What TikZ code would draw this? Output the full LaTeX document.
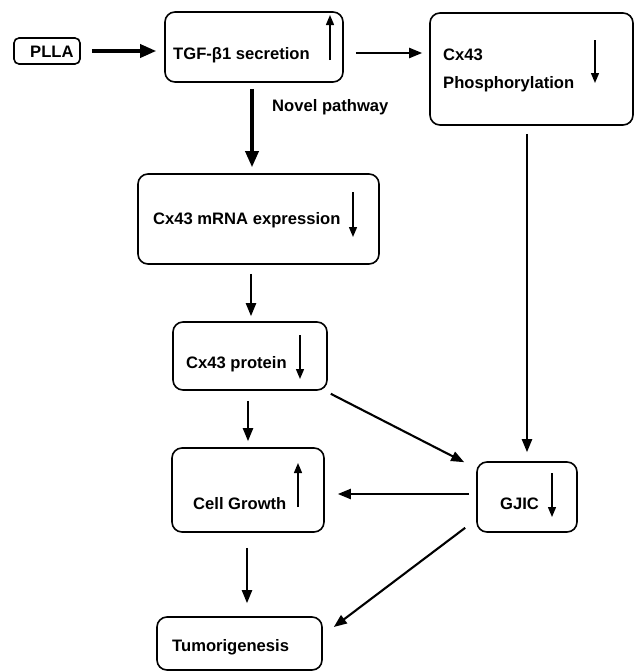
\documentclass[tikz,border=0pt]{standalone}
\usepackage{fontspec}
\setmainfont{Liberation Sans}
\usetikzlibrary{arrows.meta,calc}
\begin{document}
\begin{tikzpicture}[x=1pt,y=-1pt,
  box/.style={draw, line width=1.6pt, rounded corners=10pt, inner sep=0pt},
  lbl/.style={anchor=base west, inner sep=0pt, font=\fontsize{16.6}{19}\selectfont\bfseries},
  ind/.style={line width=1.4pt, -{Triangle[length=10pt,width=8pt]}},
  thk/.style={line width=3.4pt, -{Triangle[length=16pt,width=13pt]}},
  med/.style={line width=2.1pt, -{Triangle[length=13pt,width=10pt]}}]
\useasboundingbox (0,0) rectangle (638,672);
% boxes
\node[box, rounded corners=5pt, minimum width=66pt, minimum height=26pt] (plla) at (47,51) {};
\node[box, minimum width=178pt, minimum height=70pt] (tgf) at (254,47) {};
\node[box, minimum width=203pt, minimum height=112pt] (cxp) at (531.5,69) {};
\node[box, minimum width=241pt, minimum height=90pt] (mrna) at (258.5,219) {};
\node[box, minimum width=154pt, minimum height=68pt] (prot) at (250,356) {};
\node[box, minimum width=152pt, minimum height=84pt] (cg) at (248,490) {};
\node[box, minimum width=100pt, minimum height=70pt] (gjic) at (527,497) {};
\node[box, minimum width=165pt, minimum height=53pt] (tum) at (239.5,643.5) {};
% texts
\node[lbl] (tplla) at (30,57) {PLLA};
\node[lbl] (ttgf) at (173,59) {TGF-β1 secretion};
\node[lbl] (tcx1) at (443,60) {Cx43};
\node[lbl] (tcx2) at (443,88) {Phosphorylation};
\node[lbl] (tmrna) at (153,224) {Cx43 mRNA expression};
\node[lbl] (tprot) at (186,368) {Cx43 protein};
\node[lbl] (tcg) at (193,509) {Cell Growth};
\node[lbl] (tgjic) at (500,509) {GJIC};
\node[lbl] (ttum) at (172,651) {Tumorigenesis};
\node[lbl] (tnovel) at (272,111) {Novel pathway};
% indicator arrows
\draw[ind] (330,60) -- (330,15);
\draw[ind] (595,40) -- (595,83);
\draw[ind] (353,192) -- (353,237);
\draw[ind] (300,335) -- (300,379);
\draw[ind] (298,507) -- (298,463);
\draw[ind] (552,473) -- (552,517);
% connectors
\draw[thk, shorten <=11pt, shorten >=8pt] (plla.east) -- (plla.east -| tgf.west);
\draw[med, shorten <=12pt, shorten >=7pt] ([yshift=-6pt]tgf.east) -- ([yshift=-6pt]tgf.east -| cxp.west);
\draw[thk, shorten <=6pt, shorten >=6pt] ([xshift=-2pt]tgf.south) -- ([xshift=-2pt]tgf.south |- mrna.north);
\draw[med, shorten <=9pt, shorten >=5pt] ([xshift=-7.5pt]mrna.south) -- ([xshift=-7.5pt]mrna.south |- prot.north);
\draw[med, shorten <=10pt, shorten >=6pt] ([xshift=-2pt]prot.south) -- ([xshift=-2pt]prot.south |- cg.north);
\draw[med, shorten <=15pt, shorten >=13pt] ([xshift=-1pt]cg.south) -- ([xshift=-1pt]cg.south |- tum.north);
\draw[med, shorten <=8pt, shorten >=9pt] ([xshift=-4.5pt]cxp.south) -- ([xshift=-4.5pt]cxp.south |- gjic.north);
\draw[med] ([xshift=3pt,yshift=-3pt]prot.south east) -- ([xshift=-12pt,yshift=-1pt]gjic.north west);
\draw[med, shorten <=7pt, shorten >=13pt] ([yshift=3pt]gjic.west) -- ([yshift=3pt]gjic.west -| cg.east);
\draw[med] ([xshift=-11pt,yshift=5pt]gjic.south west) -- ([xshift=11pt,yshift=16.5pt]tum.east);
\end{tikzpicture}
\end{document}
